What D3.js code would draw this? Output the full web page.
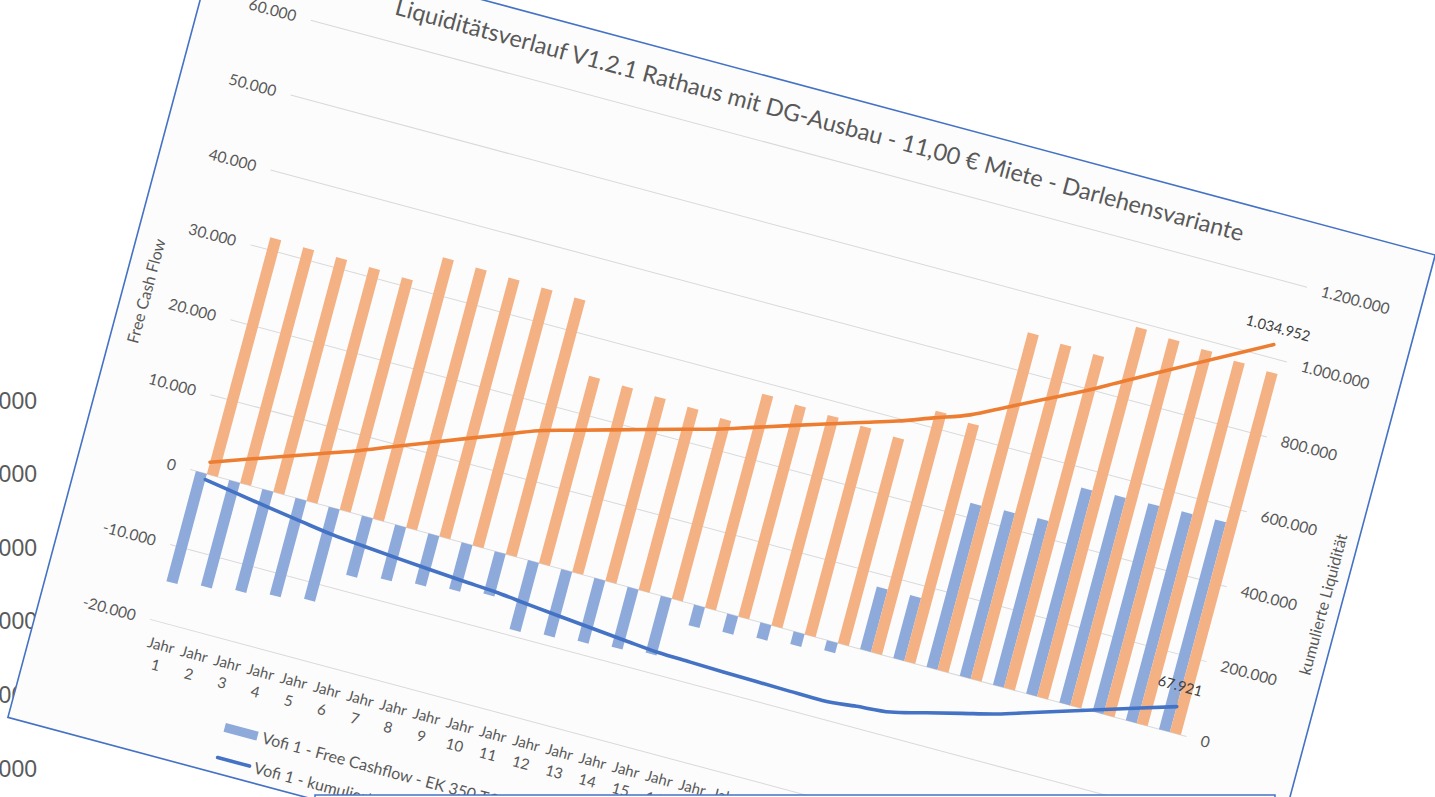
<!DOCTYPE html>
<html>
<head>
<meta charset="utf-8">
<script src="https://cdn.jsdelivr.net/npm/d3@7"></script>
<style>
  html, body { margin: 0; padding: 0; background: #ffffff; overflow: hidden; }
  svg { display: block; }
</style>
</head>
<body>
<svg id="chart" width="1435" height="797"></svg>
<script>
// ---- data ---------------------------------------------------------------
const categories = [
  "Jahr 1", "Jahr 2", "Jahr 3", "Jahr 4", "Jahr 5", "Jahr 6", "Jahr 7", "Jahr 8", "Jahr 9", "Jahr 10",
  "Jahr 11", "Jahr 12", "Jahr 13", "Jahr 14", "Jahr 15", "Jahr 16", "Jahr 17", "Jahr 18", "Jahr 19", "Jahr 20",
  "Jahr 21", "Jahr 22", "Jahr 23", "Jahr 24", "Jahr 25", "Jahr 26", "Jahr 27", "Jahr 28", "Jahr 29", "Jahr 30"
];

// Free Cashflow per year (left axis)
const fcfVofi1 = [
  -14700, -14100, -13500, -12900, -12300, -7900, -7200, -6700, -6200, -5650,
  -9200, -8750, -8400, -8000, -7600, -2750, -2450, -2050, -1700, -1350,
  8350, 8400, 21900, 22100, 22250, 27500, 27700, 27800, 27900, 28000
];
const fcfVofi2 = [
  31610, 31470, 31340, 31190, 31020, 34880, 34710, 34550, 34410, 34250,
  25010, 24880, 24650, 24420, 24120, 28550, 28300, 28090, 27840, 27580,
  32220, 31810, 45060, 44730, 44540, 49350, 49010, 48780, 48400, 48190
];

// cumulative liquidity (right axis)
const kumVofi1 = [
  -14700, -28800, -42300, -55200, -67500, -75400, -82600, -89300, -95500, -101150,
  -110350, -119100, -127500, -135500, -143100, -145850, -148300, -150350, -152050, -153400,
  -145050, -136650, -114750, -92650, -70400, -42900, -15200, 12600, 40400, 67921
];
const kumVofi2 = [
  31610, 63080, 94420, 125610, 156630, 191510, 226220, 260770, 295180, 329430,
  354440, 379320, 403970, 428390, 452510, 481060, 509360, 537450, 565290, 592870,
  625090, 656900, 701960, 746690, 791230, 840580, 889590, 938370, 986770, 1034952
];

const leftTicks = [-20000, -10000, 0, 10000, 20000, 30000, 40000, 50000, 60000];
const rightTicks = [-400000, -200000, 0, 200000, 400000, 600000, 800000, 1000000, 1200000];

const titleText = "Liquiditätsverlauf V1.2.1 Rathaus mit DG-Ausbau - 11,00 € Miete - Darlehensvariante";
const leftTitle = "Free Cash Flow";
const rightTitle = "kumulierte Liquidität";
const legendItems = [
  { label: "Vofi 1 - Free Cashflow - EK 350 T€", kind: "bar" },
  { label: "Vofi 1 - kumulierte Liquidität", kind: "line" }
];

// axis labels of the sheet lying behind the chart
const backLabels = ["600.000", "500.000", "400.000", "300.000", "200.000", "100.000"];

// ---- styling ------------------------------------------------------------
const FONT = "Lato, 'Open Sans', 'DejaVu Sans', sans-serif";
const TEXT = "#595959";
const BAR1 = "#8eaadb", BAR2 = "#f4b183";
const LINE1 = "#4472c4", LINE2 = "#ed7d31";
const GRID = "#d9d9d9";
const FRAME = "#4472c4";

const fmt = d3.formatLocale({
  decimal: ",", thousands: ".", grouping: [3], currency: ["", " €"], minus: "-"
}).format(",.0f");

const svg = d3.select("#chart");

// ---- sheet behind the chart ------------------------------------------------
const backY = d3.scalePoint().domain(backLabels).range([408.5, 776.5]);
svg.append("g")
  .selectAll("text").data(backLabels).join("text")
  .attr("x", 37).attr("y", d => backY(d))
  .attr("text-anchor", "end")
  .attr("font-family", "'Liberation Sans', Arial, sans-serif")
  .attr("font-size", 23)
  .attr("fill", "#5a5a5a")
  .text(d => d);

// ---- chart sheet (tilted) ----------------------------------------------------
const W = 1259, H = 816;
const plot = { left: 112, right: 1143.4, top: 64.2, bottom: 684.5 };

const g = svg.append("g").attr("transform", "translate(219.1,-70.8) rotate(15)");

g.append("rect")
  .attr("x", 0).attr("y", 0).attr("width", W).attr("height", H)
  .attr("fill", "#fcfcfc").attr("stroke", FRAME).attr("stroke-width", 1.6);

const x0 = d3.scaleBand().domain(categories)
  .range([plot.left, plot.right]).paddingInner(0.34).paddingOuter(0.17);
const x1 = d3.scaleBand().domain(["v1", "v2"]).range([0, x0.bandwidth()]);
const xc = d => x0(d) + x0.bandwidth() / 2;
const y = d3.scaleLinear().domain([-20000, 60000]).range([plot.bottom, plot.top]);
const y2 = d3.scaleLinear().domain([-400000, 1200000]).range([plot.bottom, plot.top]);

// gridlines
g.append("g").selectAll("line").data(leftTicks).join("line")
  .attr("x1", plot.left).attr("x2", plot.right)
  .attr("y1", d => y(d)).attr("y2", d => y(d))
  .attr("stroke", GRID).attr("stroke-width", 1);

// left axis labels
g.append("g").selectAll("text").data(leftTicks).join("text")
  .attr("x", plot.left - 15).attr("y", d => y(d)).attr("dy", "0.36em")
  .attr("text-anchor", "end")
  .attr("font-family", FONT).attr("font-size", 15.5).attr("fill", TEXT)
  .text(d => fmt(d));

// right axis labels
g.append("g").selectAll("text").data(rightTicks).join("text")
  .attr("x", plot.right + 15).attr("y", d => y2(d)).attr("dy", "0.36em")
  .attr("text-anchor", "start")
  .attr("font-family", FONT).attr("font-size", 15.5).attr("fill", TEXT)
  .text(d => fmt(d));

// category labels, two lines each
const cat = g.append("g").selectAll("text").data(categories).join("text")
  .attr("text-anchor", "middle")
  .attr("font-family", FONT).attr("font-size", 15).attr("fill", TEXT);
cat.append("tspan").attr("x", d => xc(d)).attr("y", plot.bottom + 27.5).text(d => d.split(" ")[0]);
cat.append("tspan").attr("x", d => xc(d)).attr("y", plot.bottom + 48).text(d => d.split(" ")[1]);

// bars
const barSeries = [
  { key: "v1", values: fcfVofi1, color: BAR1 },
  { key: "v2", values: fcfVofi2, color: BAR2 }
];
barSeries.forEach(s => {
  g.append("g").selectAll("rect").data(s.values).join("rect")
    .attr("x", (d, i) => x0(categories[i]) + x1(s.key))
    .attr("width", x1.bandwidth())
    .attr("y", d => Math.min(y(d), y(0)))
    .attr("height", d => Math.abs(y(d) - y(0)))
    .attr("fill", s.color);
});

// cumulative lines
const line = d3.line()
  .x((d, i) => xc(categories[i]))
  .y(d => y2(d))
  .curve(d3.curveMonotoneX);
[{ values: kumVofi2, color: LINE2 }, { values: kumVofi1, color: LINE1 }].forEach(s => {
  g.append("path").datum(s.values)
    .attr("d", line)
    .attr("fill", "none").attr("stroke", s.color)
    .attr("stroke-width", 3.6).attr("stroke-linecap", "round").attr("stroke-linejoin", "round");
});

// end value labels
const lastCat = categories[categories.length - 1];
const end2 = kumVofi2[kumVofi2.length - 1];
const end1 = kumVofi1[kumVofi1.length - 1];
g.append("text")
  .attr("x", xc(lastCat)).attr("y", y2(end2) - 17).attr("dy", "0.36em")
  .attr("text-anchor", "middle")
  .attr("font-family", FONT).attr("font-size", 14.5).attr("fill", "#404040")
  .text(fmt(end2));
g.append("line")
  .attr("x1", xc(lastCat) - 3).attr("x2", xc(lastCat))
  .attr("y1", y2(end1) - 12).attr("y2", y2(end1) - 2)
  .attr("stroke", "#a6a6a6").attr("stroke-width", 0.8);
g.append("text")
  .attr("x", xc(lastCat) - 2).attr("y", y2(end1) - 21).attr("dy", "0.36em")
  .attr("text-anchor", "middle")
  .attr("font-family", FONT).attr("font-size", 14.5).attr("fill", "#404040")
  .text(fmt(end1));

// title, fitted to its line length
const title = g.append("text")
  .attr("x", W / 2).attr("y", 37)
  .attr("text-anchor", "middle")
  .attr("font-family", FONT).attr("font-size", 21).attr("fill", TEXT)
  .text(titleText);
const tLen = title.node().getComputedTextLength();
if (tLen > 0) title.attr("font-size", 21 * 878 / tLen);

// axis titles
const midPlot = (plot.top + plot.bottom) / 2;
g.append("text")
  .attr("transform", `translate(29,${midPlot - 6}) rotate(-90)`)
  .attr("text-anchor", "middle")
  .attr("font-family", FONT).attr("font-size", 16).attr("fill", TEXT)
  .text(leftTitle);
g.append("text")
  .attr("transform", `translate(1247,${midPlot - 8}) rotate(-90)`)
  .attr("text-anchor", "middle")
  .attr("font-family", FONT).attr("font-size", 16).attr("fill", TEXT)
  .text(rightTitle);

// legend
const legendY = d3.scalePoint().domain(legendItems.map(d => d.label)).range([769.5, 800.5]);
const leg = g.append("g").selectAll("g").data(legendItems).join("g")
  .attr("transform", d => `translate(212,${legendY(d.label)})`);
leg.filter(d => d.kind === "bar").append("rect")
  .attr("x", 0).attr("y", -4.5).attr("width", 34).attr("height", 9).attr("fill", BAR1);
leg.filter(d => d.kind === "line").append("line")
  .attr("x1", 1).attr("x2", 34).attr("y1", 0).attr("y2", 0)
  .attr("stroke", LINE1).attr("stroke-width", 3.6).attr("stroke-linecap", "round");
leg.append("text")
  .attr("x", 39).attr("y", 0).attr("dy", "0.36em")
  .attr("font-family", FONT).attr("font-size", 16).attr("fill", TEXT)
  .text(d => d.label);

// window edge lying over the bottom of the sheet
svg.append("rect")
  .attr("x", 315).attr("y", 795).attr("width", 960).attr("height", 20)
  .attr("fill", "#ffffff").attr("stroke", FRAME).attr("stroke-width", 1.5);
</script>
</body>
</html>
